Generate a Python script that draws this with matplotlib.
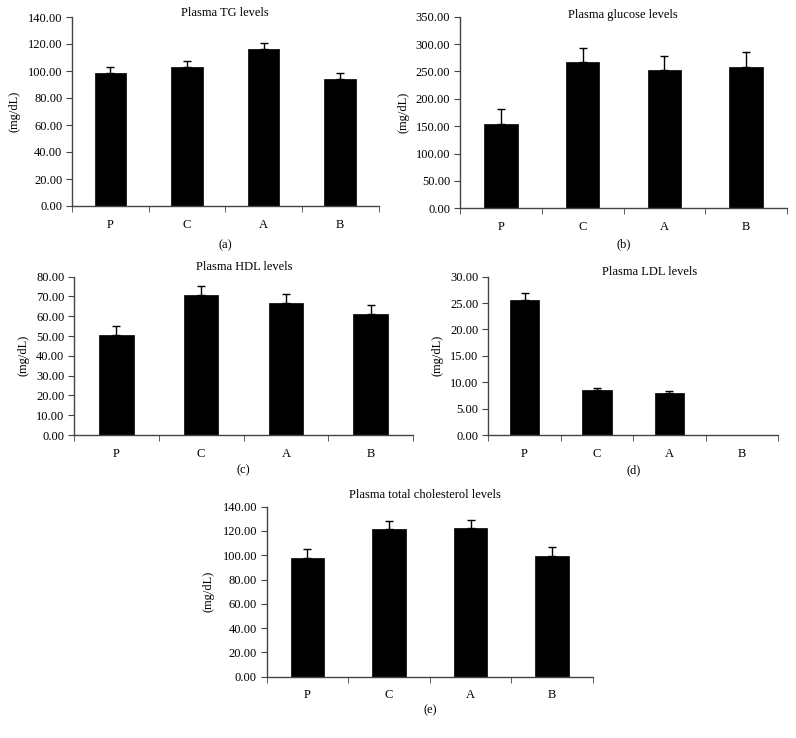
import matplotlib
matplotlib.use("Agg")
import matplotlib.pyplot as plt

plt.rcParams['font.family'] = ['Liberation Serif', 'DejaVu Serif']

categories = ["P", "C", "A", "B"]

tg_values = [98.2, 102.6, 116.0, 93.8]
tg_errors = [5.0, 5.0, 5.0, 5.0]

glucose_values = [154.0, 266.7, 252.0, 258.0]
glucose_errors = [27.0, 26.0, 27.0, 27.0]

hdl_values = [50.7, 70.9, 66.7, 61.0]
hdl_errors = [4.5, 4.6, 4.6, 4.5]

ldl_values = [25.5, 8.45, 8.0, 0.0]
ldl_errors = [1.35, 0.5, 0.4, 0.0]

tc_values = [98.0, 121.4, 122.2, 99.4]
tc_errors = [6.9, 6.8, 6.8, 7.1]

titles = ["Plasma TG levels", "Plasma glucose levels", "Plasma HDL levels",
          "Plasma LDL levels", "Plasma total cholesterol levels"]
panel_labels = ["(a)", "(b)", "(c)", "(d)", "(e)"]
ymaxes = [140, 350, 80, 30, 140]
ysteps = [20, 50, 10, 5, 20]

W, H = 796, 738
fig = plt.figure(figsize=(W / 100, H / 100), dpi=100)

# pixel boxes: left, right, top, bottom
boxes = [
    (72, 378.5, 17, 206),
    (460, 787, 16.7, 208.3),
    (74, 413, 276.7, 435),
    (488.3, 778, 276.7, 435),
    (266.7, 593, 506.7, 676.7),
]
title_pos = [(225, 13), (623, 15), (244, 267), (650, 272), (425, 495)]
ylabel_x = [15, 404, 23, 437, 208]
label_y = [245, 244, 470, 470, 710]

data = [(tg_values, tg_errors), (glucose_values, glucose_errors),
        (hdl_values, hdl_errors), (ldl_values, ldl_errors), (tc_values, tc_errors)]

fs = 9.0
spine_color = "#444444"
for i, (vals, errs) in enumerate(data):
    l, r, t, b = boxes[i]
    ax = fig.add_axes([l / W, 1 - b / H, (r - l) / W, (b - t) / H])
    x = list(range(len(categories)))
    ax.bar(x, vals, width=0.41, color="black", edgecolor="black", linewidth=0.5, zorder=2)
    ex = [xi for xi, v in zip(x, vals) if v > 0]
    ev = [v for v in vals if v > 0]
    ee = [e for e, v in zip(errs, vals) if v > 0]
    ax.errorbar(ex, ev, yerr=[[0] * len(ee), ee], fmt="none", ecolor="black",
                elinewidth=1.0, capsize=3, capthick=1.0, zorder=3)
    ax.set_xlim(-0.5, len(categories) - 0.5)
    ax.set_ylim(0, ymaxes[i])
    yt = [k * ysteps[i] for k in range(int(ymaxes[i] / ysteps[i]) + 1)]
    ax.set_yticks(yt)
    ax.set_yticklabels([f"{v:.2f}" for v in yt], fontsize=fs)
    ax.set_xticks(x)
    ax.set_xticklabels(categories, fontsize=fs)
    ax.set_xticks([k - 0.5 for k in range(len(categories) + 1)], minor=True)
    ax.tick_params(axis="x", which="major", length=0, pad=9)
    ax.tick_params(axis="x", which="minor", length=4, color=spine_color, direction="out")
    ax.tick_params(axis="y", length=4, color=spine_color, direction="out", pad=3)
    for s in ["top", "right"]:
        ax.spines[s].set_visible(False)
    for s in ["left", "bottom"]:
        ax.spines[s].set_color(spine_color)
        ax.spines[s].set_linewidth(1.0)
    tx, ty = title_pos[i]
    fig.text(tx / W, 1 - ty / H, titles[i], ha="center", va="center", fontsize=fs)
    fig.text(ylabel_x[i] / W, 1 - ((t + b) / 2) / H, "(mg/dL)", rotation=90,
             ha="center", va="center", fontsize=fs)
    fig.text(((l + r) / 2) / W, 1 - label_y[i] / H, panel_labels[i],
             ha="center", va="center", fontsize=fs)

fig.savefig("out.png", dpi=100, facecolor="white")
